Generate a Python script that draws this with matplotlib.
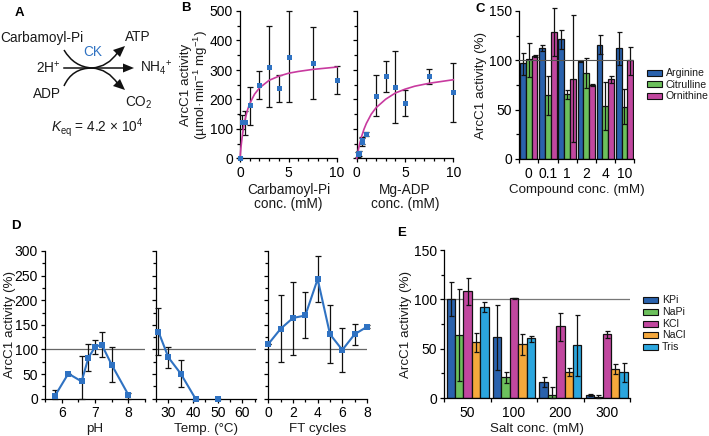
import numpy as np
import matplotlib
matplotlib.use("Agg")
import matplotlib.pyplot as plt
from matplotlib.path import Path
from matplotlib.patches import PathPatch, Rectangle, Polygon
from matplotlib.ticker import MultipleLocator, FixedLocator

plt.rcParams.update({
    'font.family': ['Liberation Sans', 'DejaVu Sans'],
    'font.size': 9.5,
    'mathtext.fontset': 'custom',
    'mathtext.rm': 'Liberation Sans',
    'mathtext.it': 'Liberation Sans:italic',
    'mathtext.default': 'regular',
    'axes.linewidth': 0.9,
    'text.color': '#1a1a1a',
    'axes.labelcolor': '#1a1a1a',
})

BLUE = '#2f72c2'
MAG = '#c83a9f'
C_ARG, C_CIT, C_ORN, C_NACL, C_TRIS = '#2a62ad', '#6cc05c', '#c1479f', '#f5a83c', '#2ba6de'

# Panel B, carbamoyl-Pi
b1_x = [0, 0.25, 0.5, 1, 2, 3, 4, 5, 7.5, 10]
b1_y = [0, 124, 124, 181, 250, 310, 240, 344, 325, 267]
b1_lo = [0, 100, 81, 115, 202, 173, 192, 190, 202, 218]
b1_hi = [0, 148, 162, 244, 296, 448, 284, 499, 446, 312]
b1_cx = [0, 0.05, 0.1, 0.2, 0.35, 0.5, 0.75, 1, 1.5, 2, 3, 4, 5, 6, 7.5, 10]
b1_cy = [0, 20, 38, 67, 102, 129, 162, 186, 218, 239, 265, 279, 289, 295, 302, 310]
# Panel B, Mg-ADP
b2_x = [0.1, 0.25, 0.5, 0.5, 1, 2, 3, 4, 5, 7.5, 10]
b2_y = [14, 18, 55, 62, 82, 213, 279, 241, 189, 278, 224]
b2_lo = [6, 10, 42, 50, 75, 143, 224, 119, 145, 253, 125]
b2_hi = [22, 26, 70, 72, 89, 284, 332, 363, 233, 303, 324]
b2_cx = [0, 0.1, 0.25, 0.5, 0.75, 1, 1.5, 2, 3, 4, 5, 6, 7.5, 10]
b2_cy = [0, 18, 42, 74, 99, 119, 150, 172, 201, 222, 235, 245, 255, 267]

# Panel C
c_groups = ['0', '0.1', '1', '2', '4', '10']
c_names = ['Arginine', 'Citrulline', 'Ornithine']
arg_v = [97, 113, 122, 99, 116, 112.5]
arg_lo = [85, 109, 111, 98, 106, 95]
arg_hi = [107, 116, 131, 99.5, 125.7, 128.7]
cit_v = [101, 64.5, 66, 87.5, 54, 53]
cit_lo = [83, 45, 61, 72, 29, 35]
cit_hi = [118, 84, 70, 102, 78, 70.6]
orn_v = [104.5, 129, 81.5, 75, 81, 100]
orn_lo = [103, 104, 17, 74, 77, 85]
orn_hi = [105.7, 153, 146, 75.7, 84.5, 113.5]

# Panel D
ph_x = [5.8, 6.2, 6.6, 6.8, 7, 7.2, 7.5, 8]
ph_y = [6, 51, 35, 83, 105, 110, 69, 8]
ph_lo = [0, 51, 0, 57, 90, 85, 33, 0]
ph_hi = [18, 51, 87, 111, 119, 135, 106, 12]
t_x = [26, 30, 35, 41, 50]
t_y = [136, 84, 51, 0, 0]
t_lo = [88, 63, 24, 0, 0]
t_hi = [184, 104, 78, 0, 0]
ft_x = [0, 1, 2, 3, 4, 5, 6, 7, 8]
ft_y = [111, 142, 164, 169, 243, 131, 99, 131, 146]
ft_lo = [111, 74, 89, 124, 196, 72, 55, 110, 143]
ft_hi = [111, 211, 238, 216, 290, 191, 143, 152, 149]

# Panel E
e_groups = ['50', '100', '200', '300']
e_names = ['KPi', 'NaPi', 'KCl', 'NaCl', 'Tris']
kpi_v = [100.5, 61.5, 16.5, 3]
kpi_lo = [83, 28, 11, 1.7]
kpi_hi = [118, 94, 21, 4.4]
napi_v = [64, 21, 3.5, 1.5]
napi_lo = [17, 15, 0, 0]
napi_hi = [110, 26.4, 11.5, 3]
kcl_v = [108.5, 101, 72.5, 64.5]
kcl_lo = [94, 100.5, 58, 60.6]
kcl_hi = [122, 101.5, 86, 67.4]
nacl_v = [57, 55, 26, 29]
nacl_lo = [47, 44, 22, 24]
nacl_hi = [66, 65, 30, 34]
tris_v = [92.5, 61, 53.5, 26]
tris_lo = [87, 57, 22, 16.6]
tris_hi = [97, 62.6, 84, 35.6]

W, H = 709, 436
TICK = 10
LAB = 9.6
fig = plt.figure(figsize=(W / 100, H / 100), dpi=100, facecolor='white')


def axpx(l, r, t, b):
    ax = fig.add_axes([l / W, 1 - b / H, (r - l) / W, (b - t) / H])
    ax.patch.set_alpha(0)
    ax.spines[['top', 'right']].set_visible(False)
    ax.tick_params(which='major', length=3.2, width=0.9, pad=2, labelsize=TICK)
    ax.tick_params(which='minor', length=2, width=0.9)
    return ax


def ylab(ax, s, l, r, xpx, **kw):
    ax.set_ylabel(s, fontsize=LAB, **kw)
    ax.yaxis.set_label_coords((xpx - l) / (r - l), 0.5)


def err(ax, x, y, lo, hi, cap=2.0, z=3, lw=0.9):
    y, lo, hi = map(np.asarray, (y, lo, hi))
    ax.errorbar(x, y, yerr=[y - lo, hi - y], fmt='none', ecolor='#111111',
                elinewidth=lw, capsize=cap, capthick=lw, zorder=z, clip_on=False)


# ---- B ----
for (l, r, xs, ys, los, his, cx, cy, xl) in [
    (240, 337, b1_x, b1_y, b1_lo, b1_hi, b1_cx, b1_cy, 'Carbamoyl-Pi\nconc. (mM)'),
    (356.7, 453.3, b2_x, b2_y, b2_lo, b2_hi, b2_cx, b2_cy, 'Mg-ADP\nconc. (mM)')]:
    ax = axpx(l, r, 11, 158.5)
    ax.set_xlim(0, 10)
    ax.set_ylim(0, 500)
    err(ax, xs, ys, los, his)
    ax.plot(cx, cy, color=MAG, lw=1.2, zorder=4, clip_on=False)
    ax.plot(xs, ys, 's', color=BLUE, ms=3.6, zorder=5, clip_on=False, mew=0)
    ax.set_xticks([0, 5, 10])
    ax.xaxis.set_minor_locator(MultipleLocator(1))
    ax.yaxis.set_major_locator(MultipleLocator(100))
    ax.yaxis.set_minor_locator(MultipleLocator(50))
    ax.set_xlabel(xl, labelpad=2.5, linespacing=0.95, fontsize=9.8)
    if l == 240:
        ylab(ax, 'ArcC1 activity\n(µmol·min$^{-1}$ mg$^{-1}$)', l, r, 210.5, linespacing=1.0)
    else:
        ax.set_yticklabels([])

# ---- C ----
ax = axpx(519.3, 634, 11, 159)
ax.set_xlim(0, 6)
ax.set_ylim(0, 150)
c_series = [(arg_v, arg_lo, arg_hi, C_ARG), (cit_v, cit_lo, cit_hi, C_CIT), (orn_v, orn_lo, orn_hi, C_ORN)]
for i, (v, lo, hi, col) in enumerate(c_series):
    xpos = np.arange(6) + 0.5 + (i - 1) * 0.3
    ax.bar(xpos, v, width=0.3, color=col, edgecolor='#111111', linewidth=0.9, zorder=2)
    err(ax, xpos, v, lo, hi, cap=1.8)
ax.axhline(100, color='#555555', lw=0.8, zorder=4)
ax.set_xticks(np.arange(7))
ax.set_xticklabels([])
ax.xaxis.set_minor_locator(FixedLocator(np.arange(6) + 0.5))
ax.set_xticklabels(c_groups, minor=True)
ax.tick_params(axis='x', which='minor', length=0, pad=5.5, labelsize=TICK)
ax.yaxis.set_major_locator(MultipleLocator(50))
ax.yaxis.set_minor_locator(MultipleLocator(25))
ylab(ax, 'ArcC1 activity (%)', 519.3, 634, 487)
ax.set_xlabel('Compound conc. (mM)', labelpad=2.5, fontsize=LAB)

# ---- D ----
d_panels = [
    (45, 145, (5.5, 8.5), ph_x, ph_y, ph_lo, ph_hi, [6, 7, 8], 0.5, 'pH'),
    (156, 256, (25, 65.5), t_x, t_y, t_lo, t_hi, [30, 40, 50, 60], 5, 'Temp. (°C)'),
    (268.3, 367, (0, 8), ft_x, ft_y, ft_lo, ft_hi, [0, 2, 4, 6, 8], 1, 'FT cycles'),
]
for k, (l, r, xlim, xs, ys, los, his, tk, mn, xl) in enumerate(d_panels):
    ax = axpx(l, r, 251, 398.7)
    ax.set_xlim(*xlim)
    ax.set_ylim(0, 300)
    ax.axhline(100, color='#666666', lw=0.9, zorder=1)
    err(ax, xs, ys, los, his)
    ax.plot(xs[:4] if k == 1 else xs, ys[:4] if k == 1 else ys, '-', color=BLUE, lw=1.5, zorder=4, clip_on=False)
    ax.plot(xs, ys, 's', color=BLUE, ms=3.8, mew=0, zorder=5, clip_on=False)
    ax.set_xticks(tk)
    ax.xaxis.set_minor_locator(MultipleLocator(mn))
    ax.yaxis.set_major_locator(MultipleLocator(50))
    ax.yaxis.set_minor_locator(MultipleLocator(25))
    ax.set_xlabel(xl, labelpad=2.5, fontsize=LAB)
    if k == 0:
        ylab(ax, 'ArcC1 activity (%)', l, r, 16.5)
    else:
        ax.set_yticklabels([])

# ---- E ----
ax = axpx(444.3, 630, 250, 398)
ax.set_xlim(0, 4)
ax.set_ylim(0, 150)
e_series = [(kpi_v, kpi_lo, kpi_hi, C_ARG), (napi_v, napi_lo, napi_hi, C_CIT), (kcl_v, kcl_lo, kcl_hi, C_ORN),
            (nacl_v, nacl_lo, nacl_hi, C_NACL), (tris_v, tris_lo, tris_hi, C_TRIS)]
ax.axhline(100, color='#777777', lw=0.9, zorder=1)
for i, (v, lo, hi, col) in enumerate(e_series):
    xpos = np.arange(4) + 0.5 + (i - 2) * 0.181
    ax.bar(xpos, v, width=0.181, color=col, edgecolor='#111111', linewidth=0.9, zorder=2)
    err(ax, xpos, v, lo, hi, cap=1.8)
ax.set_xticks(np.arange(5))
ax.set_xticklabels([])
ax.xaxis.set_minor_locator(FixedLocator(np.arange(4) + 0.5))
ax.set_xticklabels(e_groups, minor=True)
ax.tick_params(axis='x', which='minor', length=0, pad=5.5, labelsize=TICK)
ax.yaxis.set_major_locator(MultipleLocator(50))
ax.yaxis.set_minor_locator(MultipleLocator(25))
ylab(ax, 'ArcC1 activity (%)', 444.3, 630, 412)
ax.set_xlabel('Salt conc. (mM)', labelpad=2.5, fontsize=LAB)

# ---- overlay: panel letters, scheme, legends ----
ov = fig.add_axes([0, 0, 1, 1], zorder=10)
ov.set_xlim(0, W)
ov.set_ylim(H, 0)
ov.axis('off')
for s, x, y in [('A', 15, 13), ('B', 181, 8), ('C', 475, 9), ('D', 11, 226), ('E', 397, 233)]:
    ov.text(x, y, s, fontsize=9.5, fontweight='bold', color='black', ha='left', va='center')

FS = 9.8
ov.text(0, 38, 'Carbamoyl-Pi', fontsize=FS, va='center')
ov.text(93, 52, 'CK', fontsize=FS, va='center', ha='center', color=BLUE)
ov.text(125, 37, 'ATP', fontsize=FS, va='center')
ov.text(36, 68, '2H$^{+}$', fontsize=FS, va='center')
ov.text(140, 68, 'NH$_{4}$$^{+}$', fontsize=FS, va='center')
ov.text(33, 94, 'ADP', fontsize=FS, va='center')
ov.text(125, 103, 'CO$_{2}$', fontsize=FS, va='center')
ov.text(51, 128, '$\\mathit{K}_{eq}$ = 4.2 × 10$^{4}$', fontsize=FS, va='center')


def curve(p0, c, p1):
    ov.add_patch(PathPatch(Path([p0, c, p1], [Path.MOVETO, Path.CURVE3, Path.CURVE3]),
                           fc='none', ec='#111111', lw=1.1))


curve((64, 50), (74, 67), (92, 68))
curve((64, 86), (72, 68), (92, 68))
curve((92, 68), (108, 67), (118, 52))
curve((92, 68), (108, 69), (118, 84))
ov.plot([64, 126], [68, 68], color='#111111', lw=1.1)
for pts in [[(125, 46), (113, 50), (120, 57)],
            [(134, 68), (123, 63.5), (123, 72.5)],
            [(125, 90), (113, 86), (120, 79)]]:
    ov.add_patch(Polygon(pts, closed=True, fc='#111111', ec='none'))

# legends
for names, cols, x0, x1, tx, ys, fs in [
    (c_names, [C_ARG, C_CIT, C_ORN], 647, 662, 665.5, [73, 84.5, 96], 7.6),
    (e_names, [C_ARG, C_CIT, C_ORN, C_NACL, C_TRIS], 642.7, 658.3, 662, [300.3, 312, 323.7, 335.3, 347], 7.6)]:
    for n, c, y in zip(names, cols, ys):
        ov.add_patch(Rectangle((x0, y - 3), x1 - x0, 6, fc=c, ec='#111111', lw=0.8))
        ov.text(tx, y, n, fontsize=fs, va='center')

fig.savefig('out.png', dpi=100)
